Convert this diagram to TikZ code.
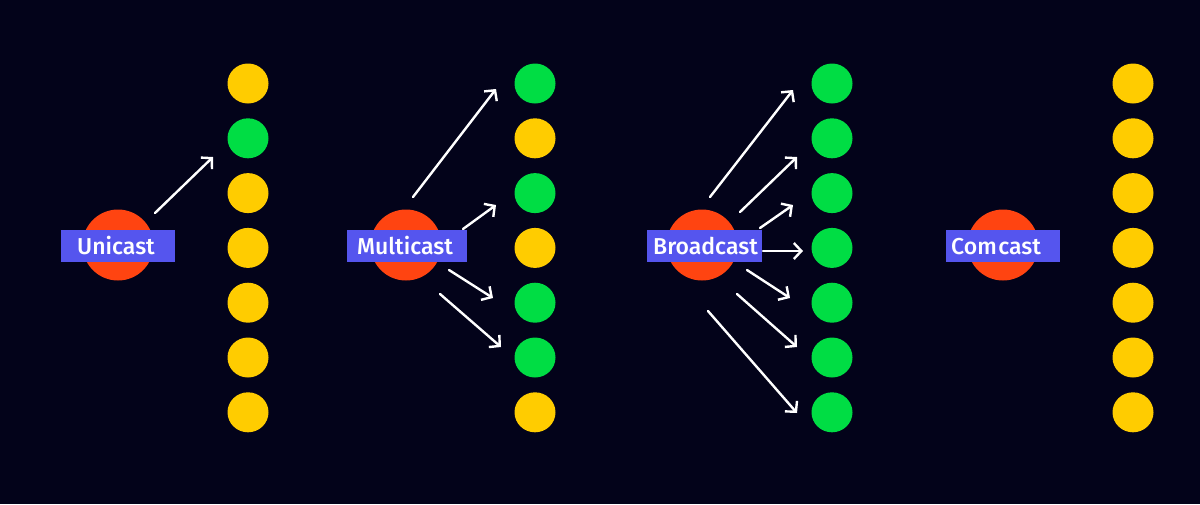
\documentclass[tikz,border=0pt]{standalone}
\usepackage{fontspec}
\setmainfont{Fira Sans}
\newfontfamily\lblfont{Fira Sans Medium}
\usetikzlibrary{arrows.meta,shapes.geometric}
\definecolor{bg}{HTML}{03031A}
\definecolor{dyel}{HTML}{FFCC00}
\definecolor{dgrn}{HTML}{00DD44}
\definecolor{dred}{HTML}{FF4411}
\definecolor{dblu}{HTML}{5555EE}
\tikzset{
  dotshape/.style={ellipse, minimum width=41pt, minimum height=40pt, inner sep=0pt},
  ydot/.style={dotshape, fill=dyel},
  gdot/.style={dotshape, fill=dgrn},
  sender/.style={circle, fill=dred, minimum size=71pt, inner sep=0pt},
  lbox/.style={fill=dblu, minimum height=32pt, inner sep=0pt},
  ltext/.style={text=white, font=\lblfont\fontsize{23}{25}\selectfont, inner sep=0pt, anchor=base west},
  arr/.style={draw=white, line width=2.4pt, line cap=round, -{Straight Barb[length=7.5pt,width=16pt,line width=2.4pt]}}
}
\begin{document}
\begin{tikzpicture}[x=1pt,y=-1pt]
\fill[bg] (0,0) rectangle (1200,504);
\useasboundingbox (0,0) rectangle (1200,504);
% columns of dots
\foreach \col/\x/\pat in {a/248/{y,g,y,y,y,y,y}, b/535/{g,y,g,y,g,g,y}, c/832/{g,g,g,g,g,g,g}, d/1133/{y,y,y,y,y,y,y}}{
  \foreach \c [count=\i] in \pat {
    \pgfmathsetmacro{\yy}{83.5+(\i-1)*54.8}
    \node[\c dot] (\col\i) at (\x,\yy) {};
  }
}
% senders
\node[sender] (s1) at (118,245) {};
\node[sender] (s2) at (406,245) {};
\node[sender] (s3) at (702,245) {};
\node[sender] (s4) at (1003,245) {};
\node[lbox, minimum width=114pt] (r1) at (118,246) {};
\node[lbox, minimum width=120pt] (r2) at (407,246) {};
\node[lbox, minimum width=115pt] (r3) at (704.5,246) {};
\node[lbox, minimum width=114pt] (r4) at (1003,246) {};
\node[ltext] (l1) at (77,254) {Unicast};
\node[ltext] (l2) at (357,254) {Multicast};
\node[ltext] (l3) at (653,254) {Broadcast};
\node[ltext] (l4) at (951,254) {Com\hspace{1.5pt}cast};
% arrow start/end coordinates
\coordinate (u0) at (155,213); \coordinate (u1) at (213,157);
\coordinate (m1s) at (413,197); \coordinate (m1e) at (496,89);
\coordinate (m2s) at (463,229); \coordinate (m2e) at (496,205);
\coordinate (m3s) at (449,270); \coordinate (m3e) at (493,298);
\coordinate (m4s) at (440,294); \coordinate (m4e) at (501,347);
\coordinate (b1s) at (710,197); \coordinate (b1e) at (793,90);
\coordinate (b2s) at (740,212); \coordinate (b2e) at (797,157);
\coordinate (b3s) at (760,228); \coordinate (b3e) at (793,205);
\coordinate (b4s) at (763,251); \coordinate (b4e) at (803,251);
\coordinate (b5s) at (747,270); \coordinate (b5e) at (790,298);
\coordinate (b6s) at (737,294); \coordinate (b6e) at (797,347);
\coordinate (b7s) at (708,311); \coordinate (b7e) at (797,413);
\draw[arr] (u0) -- (u1);
\foreach \i in {1,...,4}{\draw[arr] (m\i s) -- (m\i e);}
\foreach \i in {1,...,7}{\draw[arr] (b\i s) -- (b\i e);}
\end{tikzpicture}
\end{document}
